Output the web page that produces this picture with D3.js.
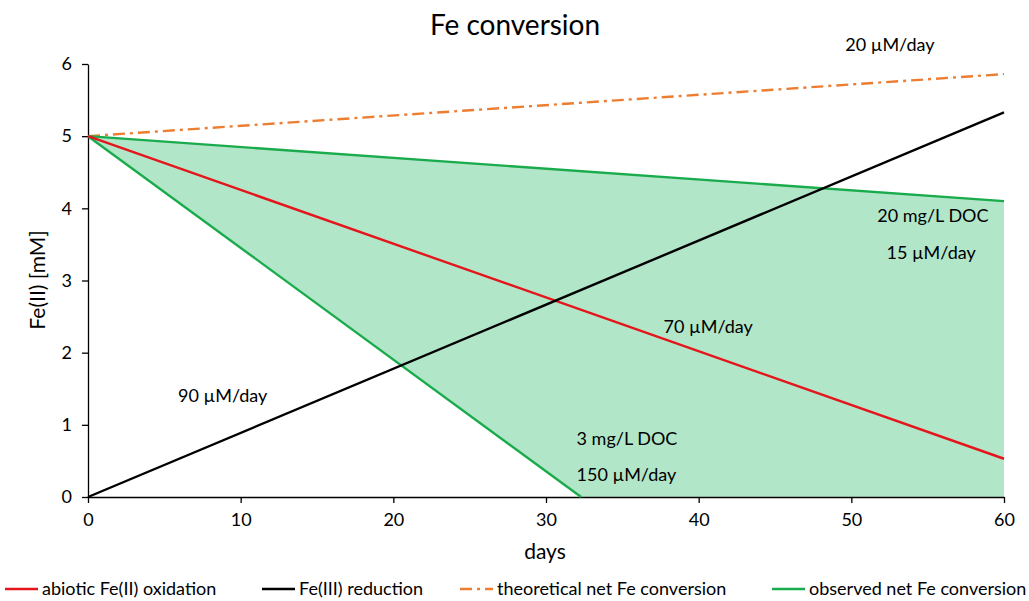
<!DOCTYPE html>
<html>
<head>
<meta charset="utf-8">
<script src="https://cdn.jsdelivr.net/npm/d3@7"></script>
<style>
	body { margin: 0; background: #fff; }
	text { font-family: Lato, "Open Sans", sans-serif; fill: #000; }
	.axis path, .axis line { stroke: #000; stroke-width: 1.3; }
</style>
</head>
<body>
<div id="chart"></div>
<script>

// days on x, Fe(II) [mM] on y
var xTicks = [0, 10, 20, 30, 40, 50, 60];
var yTicks = [0, 1, 2, 3, 4, 5, 6];

var oxidation = [[0, 5], [60, 0.53]];
var reduction = [[0, 0], [60, 5.33]];
var theoretical = [[0, 5], [60, 5.86]];
var observedHigh = [[0, 5], [60, 4.1]];
var observedLow = [[0, 5], [32.3, 0]];
var observedArea = [[0, 5], [60, 4.1], [60, 0], [32.3, 0]];

var notes = [
	{text: "20 \u00b5M/day", x: 49.6, y: 6.27},
	{text: "20 mg/L DOC", x: 51.7, y: 3.9},
	{text: "15 \u00b5M/day", x: 52.3, y: 3.39},
	{text: "70 \u00b5M/day", x: 37.7, y: 2.36},
	{text: "90 \u00b5M/day", x: 5.9, y: 1.41},
	{text: "3 mg/L DOC", x: 32.0, y: 0.81},
	{text: "150 \u00b5M/day", x: 32.0, y: 0.31}
];

var legendItems = [
	{label: "abiotic Fe(II) oxidation", color: "#e4161c", dash: null, x: 5},
	{label: "Fe(III) reduction", color: "#000000", dash: null, x: 262},
	{label: "theoretical net Fe conversion", color: "#ed7d31", dash: "12,5,3,5", x: 460},
	{label: "observed net Fe conversion", color: "#1aab4d", dash: null, x: 772}
];

var W = 1029, H = 601,
	margins = {top: 64, left: 88, right: 25, bottom: 104},
	width = W - margins.left - margins.right,
	height = H - margins.top - margins.bottom;

var svg = d3.select("#chart").append("svg")
	.attr("width", W)
	.attr("height", H);

var g = svg.append("g")
	.attr("transform", "translate(" + margins.left + "," + margins.top + ")");

var xScale = d3.scaleLinear().domain([0, 60]).range([0, width]);
var yScale = d3.scaleLinear().domain([0, 6]).range([height, 0]);

var line = d3.line()
	.x(function(d) { return xScale(d[0]); })
	.y(function(d) { return yScale(d[1]); });

g.append("path")
	.attr("d", line(observedArea) + "Z")
	.attr("fill", "#b2e6c9")
	.attr("stroke", "none");

g.append("g")
	.attr("class", "x axis")
	.attr("transform", "translate(0," + height + ")")
	.call(d3.axisBottom(xScale).tickValues(xTicks).tickFormat(d3.format("d")).tickSize(6).tickSizeOuter(0).tickPadding(10));

g.append("g")
	.attr("class", "y axis")
	.call(d3.axisLeft(yScale).tickValues(yTicks).tickFormat(d3.format("d")).tickSize(6).tickSizeOuter(0).tickPadding(10));

g.selectAll(".axis .tick text")
	.style("font-size", "18px")
	.style("font-family", "Lato, sans-serif");

function drawLine(data, color, dash) {
	g.append("path")
		.attr("d", line(data))
		.attr("fill", "none")
		.attr("stroke", color)
		.attr("stroke-width", 2.4)
		.attr("stroke-dasharray", dash);
}

drawLine(theoretical, "#ed7d31", "12,5,3,5");
drawLine(observedHigh, "#1aab4d", null);
drawLine(observedLow, "#1aab4d", null);
drawLine(oxidation, "#e4161c", null);
drawLine(reduction, "#000000", null);

g.selectAll("text.note")
	.data(notes)
	.enter().append("text")
		.attr("class", "note")
		.attr("x", function(d) { return xScale(d.x); })
		.attr("y", function(d) { return yScale(d.y); })
		.attr("dy", "0.35em")
		.style("font-size", "18px")
		.text(function(d) { return d.text; });

svg.append("text")
	.attr("x", 515).attr("y", 25)
	.attr("dy", "0.35em")
	.attr("text-anchor", "middle")
	.style("font-size", "28px")
	.text("Fe conversion");

svg.append("text")
	.attr("x", 545).attr("y", 552)
	.attr("dy", "0.35em")
	.attr("text-anchor", "middle")
	.style("font-size", "21px")
	.text("days");

svg.append("text")
	.attr("transform", "translate(38,280) rotate(-90)")
	.attr("dy", "0.35em")
	.attr("text-anchor", "middle")
	.style("font-size", "21px")
	.text("Fe(II) [mM]");

var legend = svg.append("g").attr("transform", "translate(0,589)");

var item = legend.selectAll("g")
	.data(legendItems)
	.enter().append("g")
		.attr("transform", function(d) { return "translate(" + d.x + ",0)"; });

item.append("line")
	.attr("x1", 0).attr("x2", 33)
	.attr("stroke", function(d) { return d.color; })
	.attr("stroke-width", 2.6)
	.attr("stroke-dasharray", function(d) { return d.dash; });

item.append("text")
	.attr("x", 37)
	.attr("dy", "0.35em")
	.style("font-size", "18px")
	.text(function(d) { return d.label; });

</script>
</body>
</html>
